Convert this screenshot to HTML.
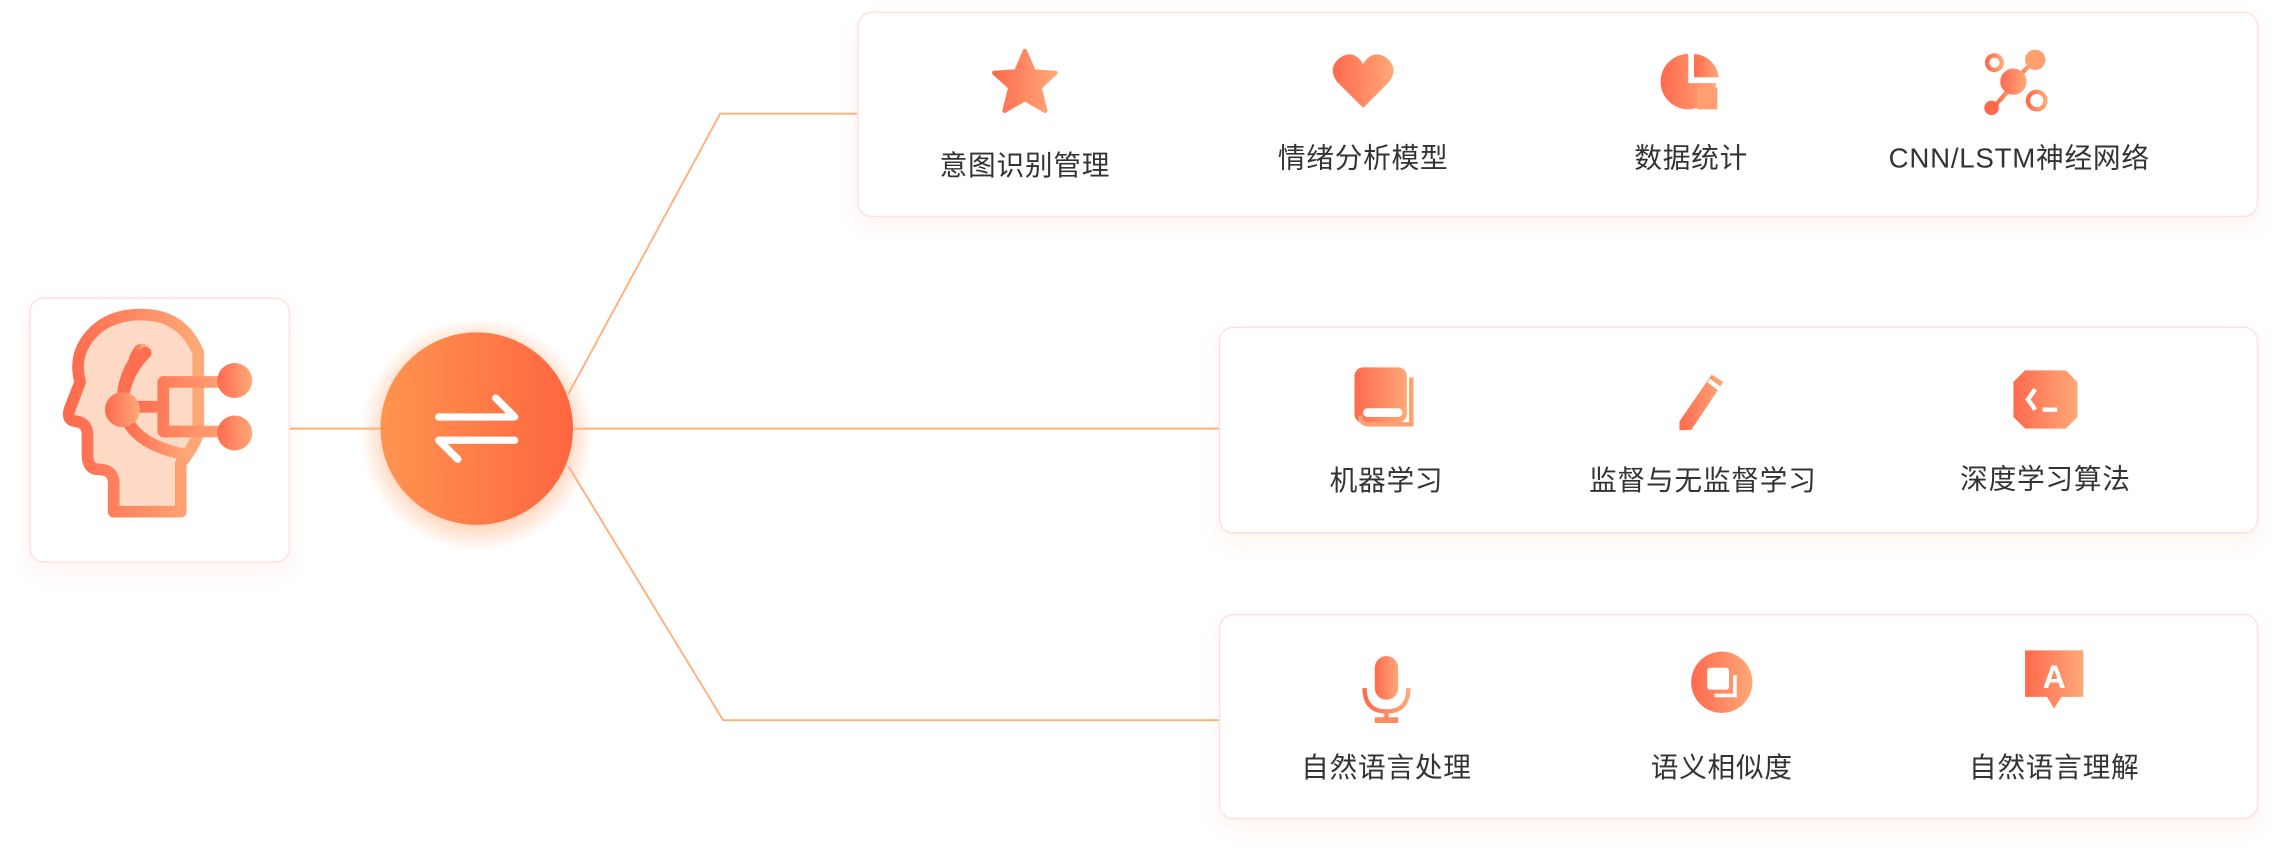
<!DOCTYPE html>
<html><head><meta charset="utf-8"><style>
html,body{margin:0;padding:0;width:2286px;height:866px;overflow:hidden;background:#fff}
#w{position:absolute;left:0;top:0;width:1568px;height:594px;transform:scale(1.45791);transform-origin:0 0;font-family:"Liberation Sans","Noto Sans CJK SC",sans-serif}
.box{position:absolute;background:#fff;border:1.5px solid #fde0e0;border-radius:10px;box-shadow:0 6px 14px rgba(255,150,120,0.10)}
.it{position:absolute;width:240px;margin-left:-120px;text-align:center}
.it svg{display:block;margin:0 auto}
.it div{font-size:19px;color:#333;letter-spacing:0.5px;position:absolute;width:240px;left:0}
</style></head><body><div id="w">
<svg width="1568" height="594" style="position:absolute;left:0;top:0">
<defs>
<linearGradient id="g" x1="0" x2="1"><stop offset="0" stop-color="#ff6a4d"/><stop offset="1" stop-color="#ffa878"/></linearGradient>
<linearGradient id="cg" x1="0" x2="1"><stop offset="0" stop-color="#ff9450"/><stop offset="1" stop-color="#ff6640"/></linearGradient>
<radialGradient id="sh"><stop offset="0.75" stop-color="#ffb080" stop-opacity="0.55"/><stop offset="1" stop-color="#ffb080" stop-opacity="0"/></radialGradient>
</defs>
<g stroke="#ffb07a" stroke-width="1.3" fill="none">
<line x1="198" y1="294" x2="262" y2="294"/>
<line x1="392" y1="294" x2="836" y2="294"/>
<polyline points="390,270 494,78 588,78"/>
<polyline points="390,320 496,494 836,494"/>
</g>
<circle cx="327" cy="298" r="80" fill="url(#sh)"/>
<circle cx="327" cy="294" r="66" fill="url(#cg)"/>
<g stroke="#fff" stroke-width="5" stroke-linecap="round" fill="none">
<line x1="301" y1="286" x2="353" y2="286"/><polyline points="340,273 353,286"/>
<line x1="301" y1="302" x2="353" y2="302"/><polyline points="301,302 314,315"/>
</g>
</svg>
<div class="box" style="left:20px;top:204px;width:177px;height:180px"></div>
<svg width="178" height="182" style="position:absolute;left:20px;top:204px">
<g fill="none" stroke="url(#g)" stroke-width="8" stroke-linejoin="round" stroke-linecap="round">
<path d="M58,147 L58,128 Q58,118 48,118 Q40,118 40,108 L40,94 Q40,86 32,85 Q25,84 28,76 L35,58 Q30,40 42,26 Q56,10 82,12 Q106,14 116,38 L116,92 Q116,98 104,114 L104,147 Z" fill="#fed9c5"/>
<path d="M78,36 Q64,52 64,72 Q66,100 108,108"/>
<path d="M78,36 Q68,48 76,36"/>
<path d="M92,58 L92,92 M92,58 L140,58 M92,92 L140,92 M70,75 L92,75"/>
</g>
<path d="M80,38 Q64,54 64,76" stroke="#ff6f50" stroke-width="8" fill="none" stroke-linecap="round"/>
<circle cx="64" cy="77" r="12" fill="url(#g)"/>
<circle cx="141" cy="57" r="12" fill="url(#g)"/>
<circle cx="141" cy="93" r="12" fill="url(#g)"/>
</svg>

<div class="box" style="left:588px;top:8px;width:959px;height:139px"></div>
<div class="box" style="left:836px;top:224px;width:711px;height:140px"></div>
<div class="box" style="left:836px;top:421px;width:711px;height:139px"></div>

<!-- row1 -->
<div class="it" style="left:703px;top:33px"><svg width="46" height="46"><path d="M23,2 L29,16 L44,17 L33,27 L37,43 L23,35 L9,43 L13,27 L2,17 L17,16Z" fill="url(#g)" stroke="url(#g)" stroke-width="3" stroke-linejoin="round"/></svg><div style="top:66px">意图识别管理</div></div>
<div class="it" style="left:935px;top:36px"><svg width="46" height="40"><path d="M23,38 L5,20 Q-2,10 8,3 Q17,-2 23,8 Q29,-2 38,3 Q48,10 41,20Z" fill="url(#g)"/></svg><div style="top:58px">情绪分析模型</div></div>
<div class="it" style="left:1160px;top:35px"><svg width="44" height="44"><path d="M20,2 A19,19 0 1 0 39,22 L20,22Z" fill="url(#g)"/><path d="M24,2 A18,18 0 0 1 41,18 L24,18Z" fill="url(#g)"/><rect x="26" y="25" width="14" height="15" fill="#ffa070"/></svg><div style="top:59px">数据统计</div></div>
<div class="it" style="left:1385px;top:33px"><svg width="50" height="48"><g stroke="url(#g)" stroke-width="3" fill="none"><circle cx="8" cy="10" r="5"/><circle cx="37" cy="36" r="6"/><line x1="22" y1="22" x2="35" y2="9"/><line x1="22" y1="24" x2="8" y2="40"/></g><circle cx="21" cy="23" r="9" fill="url(#g)"/><circle cx="36" cy="8" r="7" fill="#ffa070"/><circle cx="6" cy="41" r="5" fill="#ff6a4d"/></svg><div style="top:61px">CNN/LSTM神经网络</div></div>

<!-- row2 -->
<div class="it" style="left:951px;top:251px"><svg width="44" height="44"><rect x="0" y="1" width="36" height="38" rx="6" fill="url(#g)"/><path d="M39,8 L39,40 L10,40 Q4,40 4,34" stroke="#ffa070" stroke-width="3" fill="none"/><rect x="6" y="29" width="27" height="6" rx="3" fill="#fff"/></svg><div style="top:64px">机器学习</div></div>
<div class="it" style="left:1168px;top:255px"><svg width="44" height="44"><path d="M6,34 L28,2 L36,7 L14,40 L6,40Z" fill="url(#g)"/><line x1="26" y1="6" x2="34" y2="12" stroke="#fff" stroke-width="3"/></svg><div style="top:60px">监督与无监督学习</div></div>
<div class="it" style="left:1403px;top:254px"><svg width="44" height="42"><path d="M8,0 L36,0 L44,8 L44,32 L36,40 L8,40 L0,32 L0,8Z" fill="url(#g)"/><polyline points="15,13 10,20 15,27" stroke="#fff" stroke-width="3" fill="none"/><line x1="20" y1="27" x2="30" y2="27" stroke="#fff" stroke-width="3"/></svg><div style="top:60px">深度学习算法</div></div>

<!-- row3 -->
<div class="it" style="left:951px;top:450px"><svg width="44" height="46"><rect x="14" y="0" width="16" height="30" rx="8" fill="url(#g)"/><path d="M7,22 Q7,38 22,38 Q37,38 37,22" stroke="url(#g)" stroke-width="3" fill="none"/><line x1="22" y1="38" x2="22" y2="44" stroke="#ff8a60" stroke-width="3"/><rect x="14" y="42" width="16" height="4" fill="#ff8a60"/></svg><div style="top:62px">自然语言处理</div></div>
<div class="it" style="left:1181px;top:446px"><svg width="44" height="44"><circle cx="22" cy="22" r="21" fill="url(#g)"/><rect x="12" y="12" width="15" height="15" rx="2" fill="#fff"/><path d="M31,17 L31,31 L17,31" stroke="#fff" stroke-width="2.5" fill="none"/></svg><div style="top:66px">语义相似度</div></div>
<div class="it" style="left:1409px;top:446px"><svg width="44" height="46"><path d="M2,0 L42,0 L42,32 L27,32 L22,40 L17,32 L2,32Z" fill="url(#g)"/><text x="22" y="26" font-size="22" font-weight="bold" fill="#fff" text-anchor="middle" font-family="Liberation Sans,sans-serif">A</text></svg><div style="top:66px">自然语言理解</div></div>
</div></body></html>
